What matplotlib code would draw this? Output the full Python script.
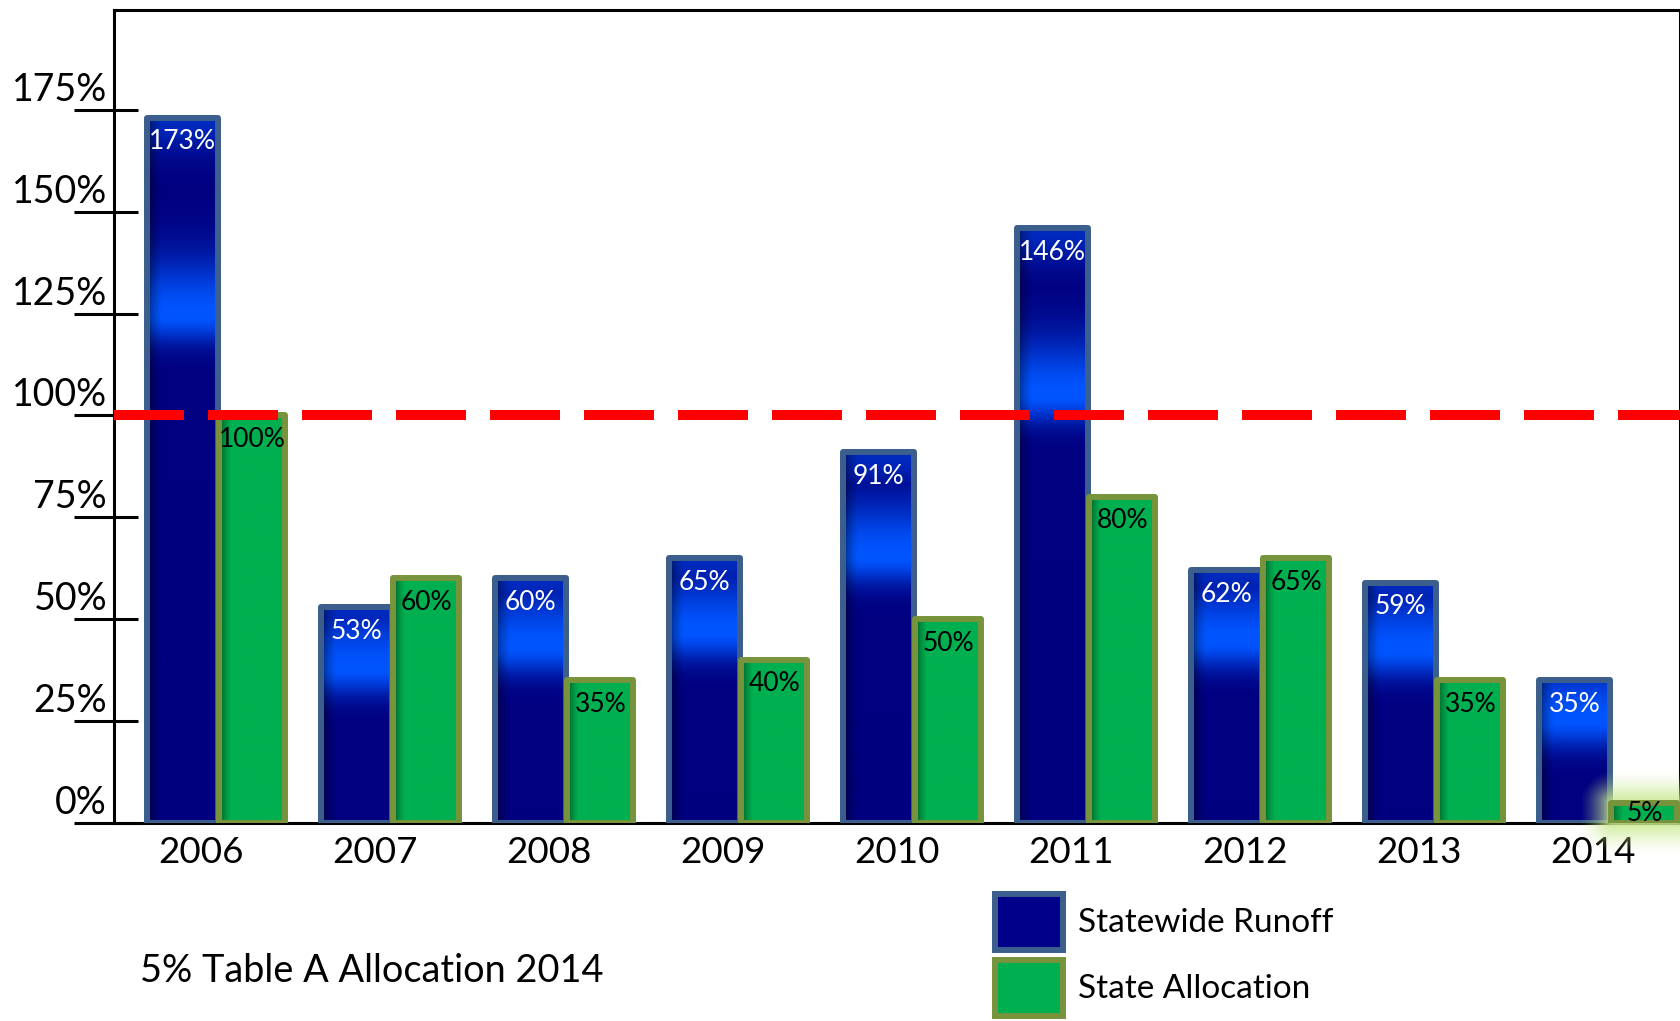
import numpy as np
import matplotlib
matplotlib.use("Agg")
import matplotlib.pyplot as plt
from matplotlib.patches import Patch
import matplotlib.transforms as mtransforms

# ---------------- data ----------------
years = ["2006", "2007", "2008", "2009", "2010", "2011", "2012", "2013", "2014"]
runoff = [173, 53, 60, 65, 91, 146, 62, 59, 35]          # Statewide Runoff (% of average)
allocation = [100, 60, 35, 40, 50, 80, 65, 35, 5]        # State Allocation (%)
series_names = ["Statewide Runoff", "State Allocation"]
reference_level = 100
ytick_values = [0, 25, 50, 75, 100, 125, 150, 175]
ytick_labels = ["0%", "25%", "50%", "75%", "100%", "125%", "150%", "175%"]
note_text = "5% Table A Allocation 2014"
highlight_index = 8   # the 2014 allocation bar is highlighted

# ---------------- styling ----------------
plt.rcParams["font.family"] = ["Lato", "DejaVu Sans"]
W, H, DPI = 1681, 1021, 100
BLUE_EDGE = "#3B5E8C"
GREEN_EDGE = "#77933C"
GREEN_FILL = np.array([0, 176, 80]) / 255
NAVY = np.array([0, 0, 128]) / 255
BRIGHT = np.array([0, 85, 255]) / 255

fig = plt.figure(figsize=(W / DPI, H / DPI), dpi=DPI)
ax = fig.add_axes([114 / W, (H - 823) / H, (1680 - 114) / W, (823 - 10) / H])
YMAX = 199.5
ax.set_xlim(-0.5, len(years) - 0.5)
ax.set_ylim(0, YMAX)

for s in ax.spines.values():
    s.set_linewidth(2.2)
    s.set_color("black")

x = np.arange(len(years))
bw_b = 0.41
bw_g = 0.38
xb = x - 0.105
xg = x + 0.295

ax_h_px = (823 - 10)
ppu_y = ax_h_px / YMAX          # pixels per data unit (y)
ppu_x = (1680 - 114) / len(years)


def blue_image(h_px):
    n = max(int(h_px), 4)
    t = np.linspace(0, h_px, n)[:, None]
    u = np.linspace(0, 1, 60)[None, :]
    tg = 0.72 * h_px
    s = np.where(t < tg, 19.0, 40.0)
    g1 = np.exp(-0.5 * ((t - tg) / s) ** 2)
    g2 = 0.5 * np.exp(-0.5 * ((h_px - t) / 24.0) ** 2)
    I = np.maximum(g1, g2)
    shade = 0.45 + 0.55 * np.clip(u / 0.2, 0, 1) ** 0.6
    rgb = NAVY[None, None, :] + (BRIGHT - NAVY)[None, None, :] * I[..., None]
    rgb = rgb * shade[..., None]
    return np.clip(rgb, 0, 1) * np.ones((n, 60, 3))


def green_image():
    u = np.linspace(0, 1, 60)[None, :]
    dark = np.array([0, 95, 40]) / 255
    f = np.clip(u / 0.17, 0, 1) ** 0.8
    rgb = dark[None, None, :] + (GREEN_FILL - dark)[None, None, :] * f[..., None]
    return np.repeat(rgb, 4, axis=0)


# --- Statewide runoff bars ---
bars_b = ax.bar(xb, runoff, bw_b, facecolor="none", edgecolor=BLUE_EDGE,
                linewidth=4.3, zorder=3, joinstyle="round")
for rect, v in zip(bars_b, runoff):
    x0 = rect.get_x()
    img = blue_image(v * ppu_y)
    im = ax.imshow(img, extent=(x0, x0 + bw_b, 0, v), origin="lower",
                   aspect="auto", interpolation="bilinear", zorder=2)
    im.set_clip_path(rect)

# --- highlight glow around the highlighted allocation bar ---
hv = allocation[highlight_index]
hx0 = xg[highlight_index] - bw_g / 2
pad_x = 34 / ppu_x
pad_y = 34 / ppu_y
gx = np.linspace(hx0 - pad_x, hx0 + bw_g + pad_x, 160)
gy = np.linspace(-pad_y, hv + pad_y, 160)
GX, GY = np.meshgrid(gx, gy)
dx = np.maximum(np.maximum(hx0 - GX, GX - (hx0 + bw_g)), 0) * ppu_x
dy = np.maximum(np.maximum(0 - GY, GY - hv), 0) * ppu_y
d = np.sqrt(dx ** 2 + dy ** 2)
alpha = np.clip(1 - d / 32.0, 0, 1) ** 1.4 * 0.9
glow = np.zeros((160, 160, 4))
glow[..., :3] = np.array([200, 232, 140]) / 255
glow[..., 3] = alpha
ax.imshow(glow, extent=(gx[0], gx[-1], gy[0], gy[-1]), origin="lower",
          aspect="auto", interpolation="bilinear", zorder=3.2, clip_on=False)

# --- State allocation bars ---
bars_g = ax.bar(xg, allocation, bw_g, facecolor="none", edgecolor=GREEN_EDGE,
                linewidth=4.3, zorder=3.6, joinstyle="round")
gimg = green_image()
for rect, v in zip(bars_g, allocation):
    x0 = rect.get_x()
    im = ax.imshow(gimg, extent=(x0, x0 + bw_g, 0, v), origin="lower",
                   aspect="auto", interpolation="bilinear", zorder=3.5)
    im.set_clip_path(rect)

ax.set_xlim(-0.5, len(years) - 0.5)
ax.set_ylim(0, YMAX)

# --- reference line ---
ax.axhline(reference_level, color="#FF0000", linewidth=7.2,
           dashes=(7.0, 2.4), dash_capstyle="butt", zorder=5)


# --- value labels ---
def put_labels(xs, vals, color):
    for xi, v in zip(xs, vals):
        if v * ppu_y < 50:
            ax.annotate(f"{v}%", xy=(xi, v / 2), xytext=(0, -1),
                        textcoords="offset pixels", ha="center", va="center",
                        color=color, fontsize=19, zorder=6)
        else:
            ax.annotate(f"{v}%", xy=(xi, v), xytext=(0, -24),
                        textcoords="offset pixels", ha="center", va="center",
                        color=color, fontsize=19, zorder=6)


put_labels(xb, runoff, "white")
put_labels(xg, allocation, "black")

# --- axes ticks ---
ax.set_xticks(x)
ax.set_xticklabels(years, fontsize=26.5)
ax.tick_params(axis="x", length=0, pad=9)

ax.set_yticks(ytick_values)
ax.set_yticklabels(ytick_labels, fontsize=27)
ax.set_yticks(ytick_values, minor=True)
ax.yaxis.remove_overlapping_locs = False
ax.tick_params(axis="y", which="major", direction="out", length=29, width=2.2,
               pad=-24)
ax.tick_params(axis="y", which="minor", direction="in", length=17, width=2.2)
ax.yaxis.set_minor_formatter(matplotlib.ticker.NullFormatter())
offset = mtransforms.ScaledTranslation(0, 9 / DPI, fig.dpi_scale_trans)
for lab in ax.get_yticklabels():
    lab.set_verticalalignment("baseline")
    lab.set_transform(lab.get_transform() + offset)

# --- legend ---
handles = [Patch(facecolor="#00008A", edgecolor=BLUE_EDGE, linewidth=4.3),
           Patch(facecolor="#00B050", edgecolor=GREEN_EDGE, linewidth=4.3)]
fig.legend(handles, series_names, loc="upper left",
           bbox_to_anchor=(995 / W, 1 - 894 / H), frameon=False, fontsize=24,
           handlelength=2.05, handleheight=2.2, handletextpad=0.45,
           labelspacing=0.3, borderpad=0, borderaxespad=0)

fig.text(140 / W, 1 - 971 / H, note_text, ha="left", va="center", fontsize=27.3)

fig.savefig("out.png", dpi=DPI)
